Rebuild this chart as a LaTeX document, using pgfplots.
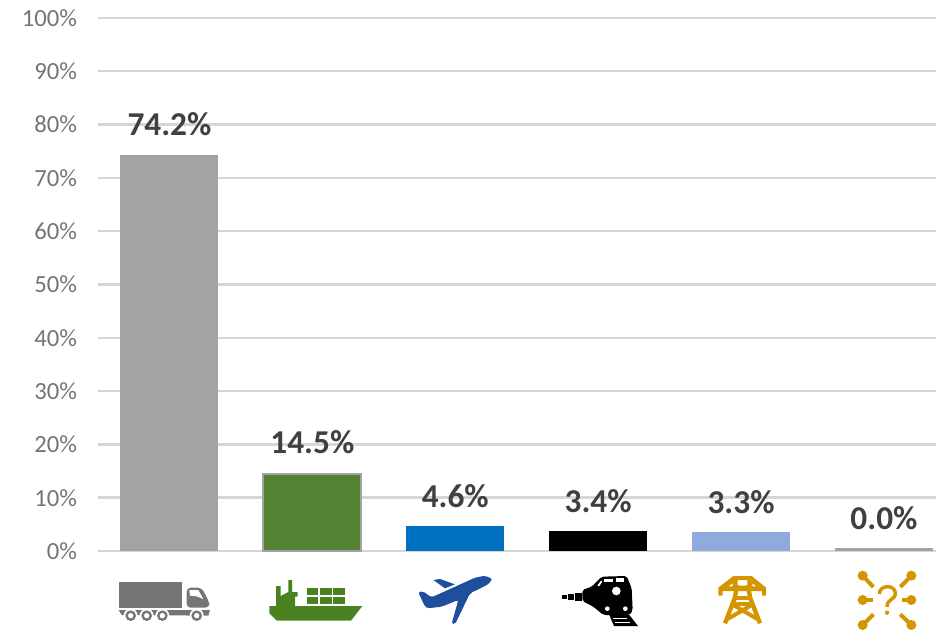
\documentclass[border=0pt]{standalone}
\usepackage{pgfplots}
\pgfplotsset{compat=1.18}
\usepackage{fontspec}
\setmainfont{Carlito}
\definecolor{tickgray}{HTML}{757575}
\definecolor{lblgray}{HTML}{404040}
\definecolor{gridgray}{HTML}{D6D6D6}
\definecolor{bargray}{HTML}{A3A3A3}
\definecolor{shipgreen}{HTML}{548235}
\definecolor{planeblue}{HTML}{0070C0}
\definecolor{railblack}{HTML}{000000}
\definecolor{pipeblue}{HTML}{8FAADC}
\definecolor{icongray}{HTML}{757575}
\definecolor{icongreen}{HTML}{4B8220}
\definecolor{iconblue}{HTML}{1F4E9F}
\definecolor{icongold}{HTML}{D39600}
\begin{document}
\begin{tikzpicture}
\useasboundingbox (0,0) rectangle (702pt,471.75pt);
\begin{axis}[
  at={(73.5pt,58.5pt)},anchor=south west,
  scale only axis,width=628.5pt,height=399.75pt,
  xmin=-0.5,xmax=5.364,ymin=0,ymax=100,
  ybar,bar width=73.5pt,bar shift=0pt,
  axis line style={draw=none},
  xtick=\empty,
  ytick={0,10,...,100},
  yticklabel={\pgfmathprintnumber{\tick}\%},
  /pgf/number format/assume math mode=true,
  tick style={draw=none},
  ymajorgrids,
  grid style={gridgray,line width=1.8pt},
  yticklabel style={font=\fontsize{18.5pt}{20pt}\selectfont,text=tickgray,inner sep=0pt,xshift=-15.5pt},
  nodes near coords style={font=\bfseries\fontsize{25pt}{27pt}\selectfont,text=lblgray,yshift=10.5pt},
  point meta=explicit symbolic,
  nodes near coords,
  clip=false,
]
\addplot[fill=bargray,draw=none] coordinates {(0,74.3)[74.2\%]};
\addplot[fill=shipgreen,draw=bargray,line width=1.5pt] coordinates {(1,14.5)[14.5\%]};
\addplot[fill=planeblue,draw=none] coordinates {(2,4.6)[4.6\%]};
\addplot[fill=railblack,draw=none] coordinates {(3,3.7)[3.4\%]};
\addplot[fill=pipeblue,draw=none] coordinates {(4,3.5)[3.3\%]};
\addplot[fill=bargray,draw=none] coordinates {(5,0.5)[0.0\%]};
\end{axis}
% truck
\begin{scope}[x=.25pt,y=-.25pt,shift={(75pt,40.5pt)}]
\fill[icongray] (56,22) rectangle (247,98);
\fill[icongray,rounded corners=3pt] (260,98) -- (260,38) -- (305,38) -- (328,82) -- (328,98) -- cycle;
\fill[white] (268,45) -- (295,45) -- (310,72) -- (290,64) -- (270,62) -- cycle;
\fill[icongray] (56,105) -- (330,105) -- (325,122) -- (65,120) -- cycle;
\foreach \w in {92,140,187,290}{\fill[white] (\w,122) circle (21);\fill[icongray] (\w,122) circle (16);\fill[white] (\w,122) circle (8);}
\end{scope}
% ship
\begin{scope}[x=.25pt,y=-.25pt,shift={(67.5pt,51.75pt)}]
\fill[icongreen] (538,138) -- (817,138) -- (783,182) -- (560,182) -- (538,160) -- cycle;
\fill[icongreen] (558,140) -- (558,78) -- (572,78) -- (572,108) -- (595,96) -- (595,60) -- (606,60) -- (606,96) -- (623,96) -- (623,110) -- (615,110) -- (615,140) -- cycle;
\foreach \a in {650,690,730}{\fill[icongreen] (\a,85) rectangle ++(35,20);\fill[icongreen] (\a,110) rectangle ++(35,22);}
\end{scope}
% plane
\begin{scope}[x=.25pt,y=-.25pt,shift={(303.75pt,48pt)}]
\fill[iconblue,rounded corners=1.5pt] (262,42) -- (240,32) -- (210,38) -- (80,97) -- (52,78) -- (40,82) -- (60,125) -- (68,130) -- (110,125) -- (160,105) -- (140,176) -- (150,178) -- (195,85) -- (250,58) -- cycle;
\fill[iconblue] (85,45) -- (105,42) -- (150,58) -- (120,70) -- cycle;
\end{scope}
% train
\begin{scope}[x=.25pt,y=-.25pt,shift={(412.5pt,48pt)}]
\fill[railblack] (36,90) rectangle (52,103);
\fill[railblack] (55,88) rectangle (72,105);
\fill[railblack] (75,85) rectangle (95,107);
\fill[railblack,rounded corners=1.5pt] (97,75) -- (125,65) -- (155,35) -- (230,33) -- (245,70) -- (248,135) -- (240,150) -- (160,150) -- (130,125) -- (97,108) -- cycle;
\fill[white] (162,42) rectangle (190,50);
\fill[white] (198,40) rectangle (222,50);
\fill[white] (142,62) -- (153,47) -- (157,50) -- (148,63) -- cycle;
\fill[white] (199,78) circle (13);
\fill[white] (172,131) circle (7);
\fill[white] (226,131) circle (7);
\fill[railblack] (178,150) -- (238,150) -- (264,183) -- (192,183) -- cycle;
\draw[white,line width=.5pt] (190,161) -- (232,161);
\draw[white,line width=.5pt] (196,171) -- (240,171);
\end{scope}
% tower
\begin{scope}[x=.25pt,y=-.25pt,shift={(525pt,48pt)}]
\fill[icongold,even odd rule] (55,68) -- (100,33) -- (155,33) -- (198,68) -- (198,92) -- (186,92) -- (186,78) -- (68,78) -- (68,92) -- (55,92) -- cycle
  (113,45) rectangle (142,62)
  (85,64) -- (98,55) -- (98,64) -- cycle
  (157,55) -- (170,64) -- (157,64) -- cycle;
\draw[icongold,line width=3.3pt] (112,60) -- (104,100) -- (75,175);
\draw[icongold,line width=3.3pt] (143,60) -- (151,100) -- (180,175);
\draw[icongold,line width=3pt] (102,98) -- (153,98);
\draw[icongold,line width=3pt] (98,118) -- (157,118);
\draw[icongold,line width=3pt] (100,120) -- (172,162);
\draw[icongold,line width=3pt] (155,120) -- (83,162);
\end{scope}
% unknown
\begin{scope}[x=.25pt,y=-.25pt,shift={(627pt,48pt)}]
\foreach \cx/\cy/\ex/\ey in {80/32/112/66,226/32/193/66,80/105/110/105,226/105/198/105,80/180/112/148,226/180/193/148}{
  \fill[icongold] (\cx,\cy) circle (15);
  \draw[icongold,line width=3pt] (\cx,\cy) -- (\ex,\ey);
}
\draw[icongold,line width=2.6pt] (130,87) .. controls (130,58) and (178,58) .. (178,85) .. controls (178,106) and (153,100) .. (153,126);
\fill[icongold] (153,143) circle (6.5);
\end{scope}
\end{tikzpicture}
\end{document}
